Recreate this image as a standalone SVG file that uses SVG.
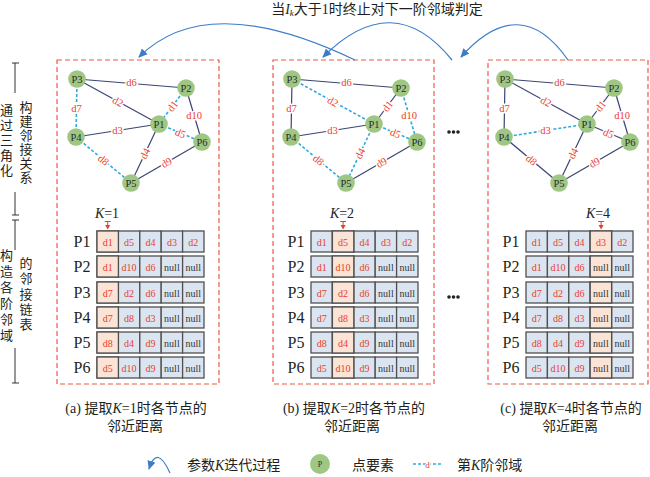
<svg xmlns="http://www.w3.org/2000/svg" xmlns:xlink="http://www.w3.org/1999/xlink" width="650" height="477" viewBox="0 0 650 477">
<defs>
<style>
text{font-family:"Liberation Serif","Noto Sans CJK SC",serif;}
.cn{font-size:14px;fill:#231f20;}
.vt{font-size:13px;fill:#231f20;text-anchor:middle;}
.it{font-style:italic;}
.panel{fill:none;stroke:#ef5a43;stroke-width:1.2;stroke-dasharray:5 3;}
.s{stroke:#3a4571;stroke-width:1.2;fill:none;}
.q{stroke:#2eaae3;stroke-width:1.6;stroke-dasharray:3 2;fill:none;}
.el{font-size:10.5px;fill:#e83e2b;text-anchor:middle;stroke:#fff;stroke-width:3;paint-order:stroke;stroke-linejoin:round;}
.nd{fill:#9ec784;}
.nl{font-size:10.5px;fill:#2b2b2b;text-anchor:middle;}
.c{fill:#dbe5f1;stroke:#505050;stroke-width:1.3;}
.h{fill:#fbe4d5;stroke:#505050;stroke-width:1.3;}
.ct{font-size:10px;fill:#e83e2b;text-anchor:middle;}
.nu{font-size:10px;fill:#333;text-anchor:middle;}
.rl{font-size:16px;fill:#231f20;text-anchor:middle;}
.arc{fill:none;stroke:#3b7dc8;stroke-width:1.2;}
.br{stroke:#333;stroke-width:1;fill:none;}
.mk{stroke:#e83e2b;stroke-width:1;fill:none;}
.dot{fill:#222;}
</style>
<marker id="ah" viewBox="0 0 10 10" refX="9" refY="5" markerWidth="9" markerHeight="9" markerUnits="userSpaceOnUse" orient="auto"><path d="M0,0.5 L10,5 L0,9.5 z" fill="#3b7dc8"/></marker>
<g id="tcells">
<rect class="c" x="0" y="0" width="21.4" height="21"/><rect class="c" x="21.4" y="0" width="21.4" height="21"/><rect class="c" x="42.8" y="0" width="21.4" height="21"/><rect class="c" x="64.2" y="0" width="21.4" height="21"/><rect class="c" x="85.6" y="0" width="21.4" height="21"/>
<rect class="c" x="0" y="25" width="21.4" height="21"/><rect class="c" x="21.4" y="25" width="21.4" height="21"/><rect class="c" x="42.8" y="25" width="21.4" height="21"/><rect class="c" x="64.2" y="25" width="21.4" height="21"/><rect class="c" x="85.6" y="25" width="21.4" height="21"/>
<rect class="c" x="0" y="51" width="21.4" height="21"/><rect class="c" x="21.4" y="51" width="21.4" height="21"/><rect class="c" x="42.8" y="51" width="21.4" height="21"/><rect class="c" x="64.2" y="51" width="21.4" height="21"/><rect class="c" x="85.6" y="51" width="21.4" height="21"/>
<rect class="c" x="0" y="76" width="21.4" height="21"/><rect class="c" x="21.4" y="76" width="21.4" height="21"/><rect class="c" x="42.8" y="76" width="21.4" height="21"/><rect class="c" x="64.2" y="76" width="21.4" height="21"/><rect class="c" x="85.6" y="76" width="21.4" height="21"/>
<rect class="c" x="0" y="101" width="21.4" height="21"/><rect class="c" x="21.4" y="101" width="21.4" height="21"/><rect class="c" x="42.8" y="101" width="21.4" height="21"/><rect class="c" x="64.2" y="101" width="21.4" height="21"/><rect class="c" x="85.6" y="101" width="21.4" height="21"/>
<rect class="c" x="0" y="126" width="21.4" height="21"/><rect class="c" x="21.4" y="126" width="21.4" height="21"/><rect class="c" x="42.8" y="126" width="21.4" height="21"/><rect class="c" x="64.2" y="126" width="21.4" height="21"/><rect class="c" x="85.6" y="126" width="21.4" height="21"/>
</g>
<g id="ttext">
<text class="rl" x="-15" y="16">P1</text><text class="rl" x="-15" y="41">P2</text><text class="rl" x="-15" y="67">P3</text><text class="rl" x="-15" y="92">P4</text><text class="rl" x="-15" y="117">P5</text><text class="rl" x="-15" y="142">P6</text>
<text class="ct" x="10.7" y="14.5">d1</text><text class="ct" x="32.1" y="14.5">d5</text><text class="ct" x="53.5" y="14.5">d4</text><text class="ct" x="74.9" y="14.5">d3</text><text class="ct" x="96.3" y="14.5">d2</text>
<text class="ct" x="10.7" y="39.5">d1</text><text class="ct" x="32.1" y="39.5">d10</text><text class="ct" x="53.5" y="39.5">d6</text><text class="nu" x="74.9" y="39.5">null</text><text class="nu" x="96.3" y="39.5">null</text>
<text class="ct" x="10.7" y="65.5">d7</text><text class="ct" x="32.1" y="65.5">d2</text><text class="ct" x="53.5" y="65.5">d6</text><text class="nu" x="74.9" y="65.5">null</text><text class="nu" x="96.3" y="65.5">null</text>
<text class="ct" x="10.7" y="90.5">d7</text><text class="ct" x="32.1" y="90.5">d8</text><text class="ct" x="53.5" y="90.5">d3</text><text class="nu" x="74.9" y="90.5">null</text><text class="nu" x="96.3" y="90.5">null</text>
<text class="ct" x="10.7" y="115.5">d8</text><text class="ct" x="32.1" y="115.5">d4</text><text class="ct" x="53.5" y="115.5">d9</text><text class="nu" x="74.9" y="115.5">null</text><text class="nu" x="96.3" y="115.5">null</text>
<text class="ct" x="10.7" y="140.5">d5</text><text class="ct" x="32.1" y="140.5">d10</text><text class="ct" x="53.5" y="140.5">d9</text><text class="nu" x="74.9" y="140.5">null</text><text class="nu" x="96.3" y="140.5">null</text>
</g>
</defs>
<rect width="650" height="477" fill="#fff"/>

<!-- title -->
<text class="cn" x="377" y="14" text-anchor="middle">当<tspan class="it">I</tspan><tspan class="it" font-size="9" dy="2">k</tspan><tspan dy="-2">大于1时终止对下一阶邻域判定</tspan></text>

<!-- left brackets -->
<g id="side-labels">
<path class="br" d="M12,63 h7 M15,63 V93 M15,192 V215 M12,215 h7 M12,220 h7 M15,220 V250 M15,348 V383 M12,383 h7"/>
<text class="vt"><tspan x="26" y="112">构</tspan><tspan x="26" y="126">建</tspan><tspan x="26" y="140">邻</tspan><tspan x="26" y="154">接</tspan><tspan x="26" y="168">关</tspan><tspan x="26" y="182">系</tspan></text>
<text class="vt"><tspan x="6.5" y="115">通</tspan><tspan x="6.5" y="130">过</tspan><tspan x="6.5" y="145">三</tspan><tspan x="6.5" y="160">角</tspan><tspan x="6.5" y="175">化</tspan></text>
<text class="vt"><tspan x="6.5" y="260">构</tspan><tspan x="6.5" y="276">造</tspan><tspan x="6.5" y="292">各</tspan><tspan x="6.5" y="308">阶</tspan><tspan x="6.5" y="324">邻</tspan><tspan x="6.5" y="340">域</tspan></text>
<text class="vt"><tspan x="26" y="268">的</tspan><tspan x="26" y="283">邻</tspan><tspan x="26" y="299">接</tspan><tspan x="26" y="314">链</tspan><tspan x="26" y="329">表</tspan></text>
</g>

<!-- panels -->
<rect class="panel" x="57" y="60" width="162" height="324"/>
<rect class="panel" x="273" y="60" width="161" height="324"/>
<rect class="panel" x="488" y="60" width="160" height="324"/>

<!-- iteration arrows -->
<g id="iter-arrows">
<path class="arc" d="M355,60 Q207,-11 139,57" marker-end="url(#ah)"/>
<path class="arc" d="M452,60 Q393,-13 323,57" marker-end="url(#ah)"/>
<path class="arc" d="M568,60 Q520,-9 461,57" marker-end="url(#ah)"/>
</g>

<!-- connectors -->
<g id="connectors">
<!-- panel a -->
<line class="s" x1="77" y1="79" x2="186" y2="88"/>
<line class="s" x1="77" y1="79" x2="159" y2="124"/>
<line class="q" x1="77" y1="79" x2="76" y2="137"/>
<line class="q" x1="186" y1="88" x2="159" y2="124"/>
<line class="s" x1="186" y1="88" x2="202" y2="142"/>
<line class="s" x1="76" y1="137" x2="159" y2="124"/>
<line class="q" x1="159" y1="124" x2="202" y2="142"/>
<line class="s" x1="159" y1="124" x2="131" y2="183"/>
<line class="q" x1="76" y1="137" x2="131" y2="183"/>
<line class="s" x1="131" y1="183" x2="202" y2="142"/>
<text class="el" transform="translate(131.5 82.5)" dy="0.35em">d6</text>
<text class="el" transform="translate(118 101.5) rotate(28.8)" dy="0.35em">d2</text>
<text class="el" transform="translate(76.5 108)" dy="0.35em">d7</text>
<text class="el" transform="translate(172.5 106) rotate(-53)" dy="0.35em">d1</text>
<text class="el" transform="translate(194 115)" dy="0.35em">d10</text>
<text class="el" transform="translate(117.5 130.5)" dy="0.35em">d3</text>
<text class="el" transform="translate(180.5 133) rotate(22.7)" dy="0.35em">d5</text>
<text class="el" transform="translate(145 153.5) rotate(-64.6)" dy="0.35em">d4</text>
<text class="el" transform="translate(103.5 160) rotate(39.9)" dy="0.35em">d8</text>
<text class="el" transform="translate(166.5 162.5) rotate(-30)" dy="0.35em">d9</text>
<!-- panel b -->
<line class="s" x1="292" y1="79" x2="401" y2="88"/>
<line class="q" x1="292" y1="79" x2="374" y2="124"/>
<line class="s" x1="292" y1="79" x2="291" y2="137"/>
<line class="s" x1="401" y1="88" x2="374" y2="124"/>
<line class="q" x1="401" y1="88" x2="417" y2="142"/>
<line class="s" x1="291" y1="137" x2="374" y2="124"/>
<line class="q" x1="374" y1="124" x2="417" y2="142"/>
<line class="q" x1="374" y1="124" x2="346" y2="183"/>
<line class="q" x1="291" y1="137" x2="346" y2="183"/>
<line class="s" x1="346" y1="183" x2="417" y2="142"/>
<text class="el" transform="translate(346.5 82.5)" dy="0.35em">d6</text>
<text class="el" transform="translate(333 101.5) rotate(28.8)" dy="0.35em">d2</text>
<text class="el" transform="translate(291.5 108)" dy="0.35em">d7</text>
<text class="el" transform="translate(387.5 106) rotate(-53)" dy="0.35em">d1</text>
<text class="el" transform="translate(409 115)" dy="0.35em">d10</text>
<text class="el" transform="translate(332.5 130.5)" dy="0.35em">d3</text>
<text class="el" transform="translate(395.5 133) rotate(22.7)" dy="0.35em">d5</text>
<text class="el" transform="translate(360 153.5) rotate(-64.6)" dy="0.35em">d4</text>
<text class="el" transform="translate(318.5 160) rotate(39.9)" dy="0.35em">d8</text>
<text class="el" transform="translate(381.5 162.5) rotate(-30)" dy="0.35em">d9</text>
<!-- panel c -->
<line class="s" x1="505" y1="79" x2="614" y2="88"/>
<line class="s" x1="505" y1="79" x2="587" y2="124"/>
<line class="s" x1="505" y1="79" x2="504" y2="137"/>
<line class="s" x1="614" y1="88" x2="587" y2="124"/>
<line class="s" x1="614" y1="88" x2="630" y2="142"/>
<line class="q" x1="504" y1="137" x2="587" y2="124"/>
<line class="s" x1="587" y1="124" x2="630" y2="142"/>
<line class="s" x1="587" y1="124" x2="559" y2="183"/>
<line class="s" x1="504" y1="137" x2="559" y2="183"/>
<line class="s" x1="559" y1="183" x2="630" y2="142"/>
<text class="el" transform="translate(559.5 82.5)" dy="0.35em">d6</text>
<text class="el" transform="translate(546 101.5) rotate(28.8)" dy="0.35em">d2</text>
<text class="el" transform="translate(504.5 108)" dy="0.35em">d7</text>
<text class="el" transform="translate(600.5 106) rotate(-53)" dy="0.35em">d1</text>
<text class="el" transform="translate(622 115)" dy="0.35em">d10</text>
<text class="el" transform="translate(545.5 130.5)" dy="0.35em">d3</text>
<text class="el" transform="translate(608.5 133) rotate(22.7)" dy="0.35em">d5</text>
<text class="el" transform="translate(573 153.5) rotate(-64.6)" dy="0.35em">d4</text>
<text class="el" transform="translate(531.5 160) rotate(39.9)" dy="0.35em">d8</text>
<text class="el" transform="translate(594.5 162.5) rotate(-30)" dy="0.35em">d9</text>
</g>

<!-- nodes panel a -->
<g id="a-P1"><circle class="nd" cx="159" cy="124" r="8.8"/><text class="nl" x="159" y="127.7">P1</text></g>
<g id="a-P2"><circle class="nd" cx="186" cy="88" r="8.8"/><text class="nl" x="186" y="91.7">P2</text></g>
<g id="a-P3"><circle class="nd" cx="77" cy="79" r="8.8"/><text class="nl" x="77" y="82.7">P3</text></g>
<g id="a-P4"><circle class="nd" cx="76" cy="137" r="8.8"/><text class="nl" x="76" y="140.7">P4</text></g>
<g id="a-P5"><circle class="nd" cx="131" cy="183" r="8.8"/><text class="nl" x="131" y="186.7">P5</text></g>
<g id="a-P6"><circle class="nd" cx="202" cy="142" r="8.8"/><text class="nl" x="202" y="145.7">P6</text></g>
<!-- nodes panel b -->
<g id="b-P1"><circle class="nd" cx="374" cy="124" r="8.8"/><text class="nl" x="374" y="127.7">P1</text></g>
<g id="b-P2"><circle class="nd" cx="401" cy="88" r="8.8"/><text class="nl" x="401" y="91.7">P2</text></g>
<g id="b-P3"><circle class="nd" cx="292" cy="79" r="8.8"/><text class="nl" x="292" y="82.7">P3</text></g>
<g id="b-P4"><circle class="nd" cx="291" cy="137" r="8.8"/><text class="nl" x="291" y="140.7">P4</text></g>
<g id="b-P5"><circle class="nd" cx="346" cy="183" r="8.8"/><text class="nl" x="346" y="186.7">P5</text></g>
<g id="b-P6"><circle class="nd" cx="417" cy="142" r="8.8"/><text class="nl" x="417" y="145.7">P6</text></g>
<!-- nodes panel c -->
<g id="c-P1"><circle class="nd" cx="587" cy="124" r="8.8"/><text class="nl" x="587" y="127.7">P1</text></g>
<g id="c-P2"><circle class="nd" cx="614" cy="88" r="8.8"/><text class="nl" x="614" y="91.7">P2</text></g>
<g id="c-P3"><circle class="nd" cx="505" cy="79" r="8.8"/><text class="nl" x="505" y="82.7">P3</text></g>
<g id="c-P4"><circle class="nd" cx="504" cy="137" r="8.8"/><text class="nl" x="504" y="140.7">P4</text></g>
<g id="c-P5"><circle class="nd" cx="559" cy="183" r="8.8"/><text class="nl" x="559" y="186.7">P5</text></g>
<g id="c-P6"><circle class="nd" cx="630" cy="142" r="8.8"/><text class="nl" x="630" y="145.7">P6</text></g>

<!-- tables -->
<g id="table-a">
<text class="cn" x="107" y="218" text-anchor="middle"><tspan class="it">K</tspan>=1</text>
<path class="mk" d="M104.7,221.5 h6 M107.7,221.5 v4"/><path d="M105.2,225 h5 l-2.5,4.5 z" fill="#e83e2b"/>
<use xlink:href="#tcells" x="97" y="231"/>
<rect class="h" x="97" y="231" width="21.4" height="21"/><rect class="h" x="97" y="256" width="21.4" height="21"/><rect class="h" x="97" y="282" width="21.4" height="21"/><rect class="h" x="97" y="307" width="21.4" height="21"/><rect class="h" x="97" y="332" width="21.4" height="21"/><rect class="h" x="97" y="357" width="21.4" height="21"/>
<use xlink:href="#ttext" x="97" y="231"/>
</g>
<g id="table-b">
<text class="cn" x="342" y="218" text-anchor="middle"><tspan class="it">K</tspan>=2</text>
<path class="mk" d="M340.1,221.5 h6 M343.1,221.5 v4"/><path d="M340.6,225 h5 l-2.5,4.5 z" fill="#e83e2b"/>
<use xlink:href="#tcells" x="311" y="231"/>
<rect class="h" x="332.4" y="231" width="21.4" height="21"/><rect class="h" x="332.4" y="256" width="21.4" height="21"/><rect class="h" x="332.4" y="282" width="21.4" height="21"/><rect class="h" x="332.4" y="307" width="21.4" height="21"/><rect class="h" x="332.4" y="332" width="21.4" height="21"/><rect class="h" x="332.4" y="357" width="21.4" height="21"/>
<use xlink:href="#ttext" x="311" y="231"/>
</g>
<g id="table-c">
<text class="cn" x="598" y="218" text-anchor="middle"><tspan class="it">K</tspan>=4</text>
<path class="mk" d="M598.1,221.5 h6 M601.1,221.5 v4"/><path d="M598.6,225 h5 l-2.5,4.5 z" fill="#e83e2b"/>
<use xlink:href="#tcells" x="526" y="231"/>
<rect class="h" x="590.2" y="231" width="21.4" height="21"/><rect class="h" x="590.2" y="256" width="21.4" height="21"/><rect class="h" x="590.2" y="282" width="21.4" height="21"/><rect class="h" x="590.2" y="307" width="21.4" height="21"/><rect class="h" x="590.2" y="332" width="21.4" height="21"/><rect class="h" x="590.2" y="357" width="21.4" height="21"/>
<use xlink:href="#ttext" x="526" y="231"/>
</g>

<!-- ellipses -->
<g id="ellipses">
<circle class="dot" cx="449" cy="132" r="1.8"/><circle class="dot" cx="453.5" cy="132" r="1.8"/><circle class="dot" cx="458" cy="132" r="1.8"/>
<circle class="dot" cx="449" cy="297" r="1.8"/><circle class="dot" cx="453.5" cy="297" r="1.8"/><circle class="dot" cx="458" cy="297" r="1.8"/>
</g>

<!-- captions -->
<g id="captions">
<text class="cn" x="136" y="413" text-anchor="middle">(a) 提取<tspan class="it">K</tspan>=1时各节点的</text>
<text class="cn" x="135" y="431" text-anchor="middle">邻近距离</text>
<text class="cn" x="354" y="413" text-anchor="middle">(b) 提取<tspan class="it">K</tspan>=2时各节点的</text>
<text class="cn" x="352" y="431" text-anchor="middle">邻近距离</text>
<text class="cn" x="571" y="413" text-anchor="middle">(c) 提取<tspan class="it">K</tspan>=4时各节点的</text>
<text class="cn" x="570" y="431" text-anchor="middle">邻近距离</text>
</g>

<!-- legend -->
<g id="legend">
<path class="arc" d="M170,473 Q157,444 149,469" marker-end="url(#ah)"/>
<text class="cn" x="187" y="470">参数<tspan class="it">K</tspan>迭代过程</text>
<circle class="nd" cx="320" cy="464" r="10"/>
<text x="320" y="467" font-size="8" fill="#2b2b2b" text-anchor="middle">P</text>
<text class="cn" x="352" y="470">点要素</text>
<line class="q" x1="413" y1="464" x2="442" y2="464" stroke-width="1.4"/>
<text x="427.5" y="467.5" font-size="9" fill="#e83e2b" text-anchor="middle" stroke="#fff" stroke-width="2" paint-order="stroke">d</text>
<text class="cn" x="457" y="470">第<tspan class="it">K</tspan>阶邻域</text>
</g>
</svg>
